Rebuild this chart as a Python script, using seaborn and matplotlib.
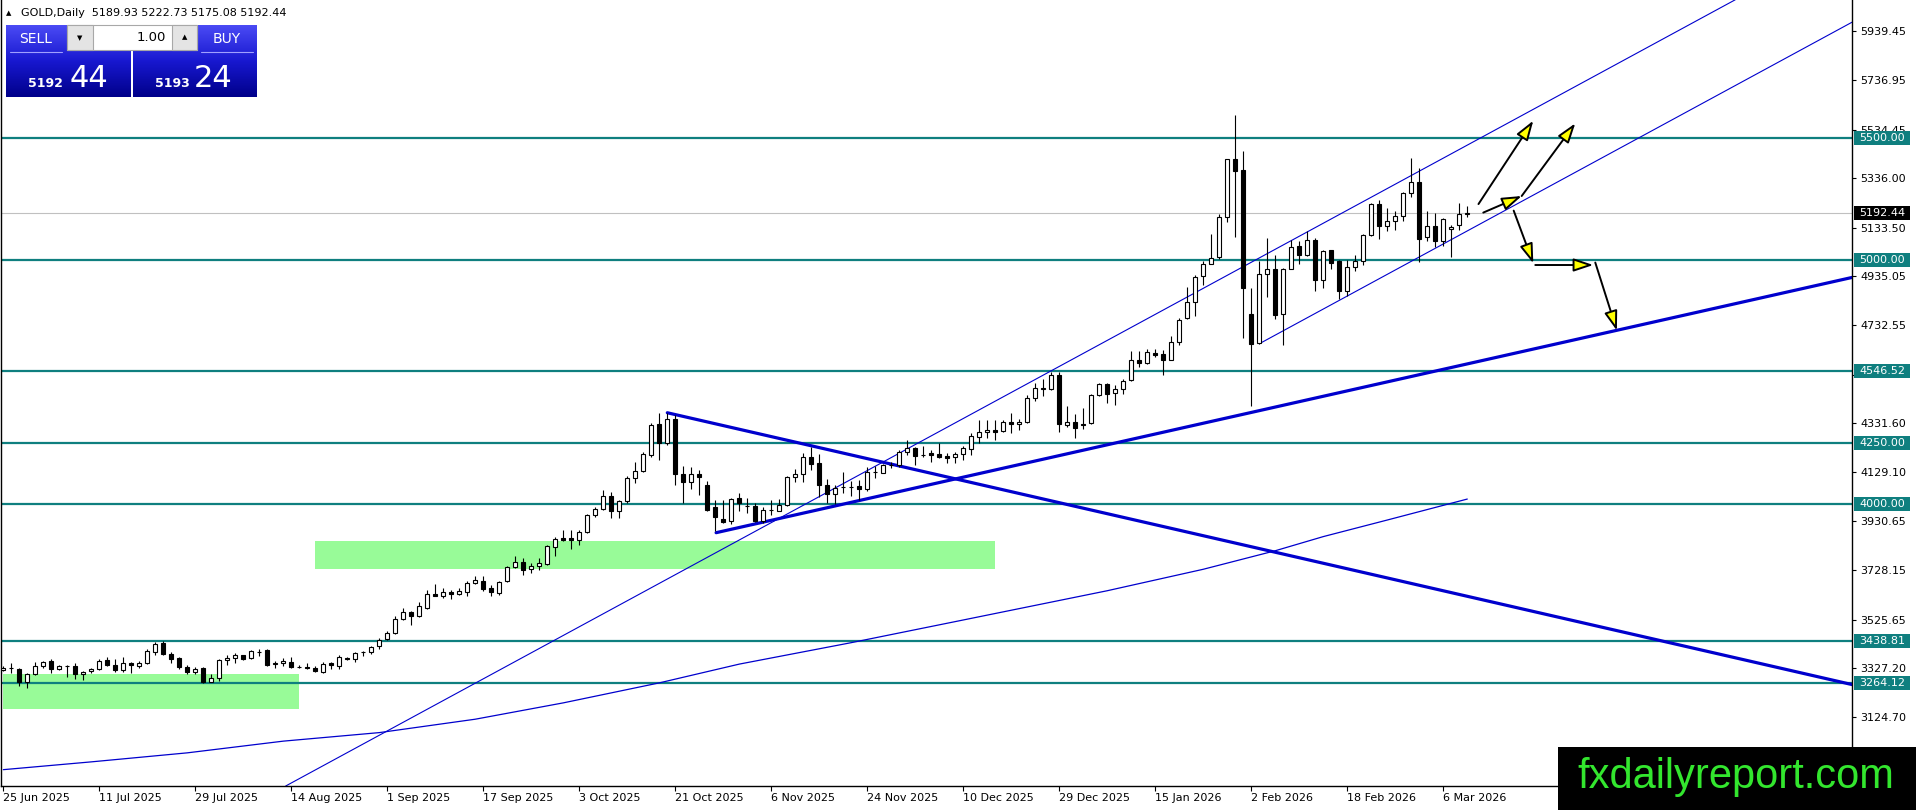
import numpy as np
import matplotlib
matplotlib.use("Agg")
import matplotlib.pyplot as plt
import seaborn as sns
from matplotlib.patches import Rectangle, FancyArrowPatch
from matplotlib.colors import LinearSegmentedColormap

# ---- daily GOLD candles, 25 Jun 2025 .. 10 Mar 2026 (one value per bar)
opens = [
    3318, 3325, 3324, 3271, 3301, 3337, 3354, 3324, 3336, 3337,
    3301, 3313, 3321, 3358, 3341, 3318, 3347, 3337, 3348, 3392,
    3430, 3386, 3366, 3332, 3310, 3325, 3271, 3286, 3358, 3366,
    3380, 3366, 3393, 3399, 3345, 3346, 3352, 3332, 3332, 3328,
    3312, 3347, 3337, 3369, 3362, 3391, 3393, 3416, 3446, 3471,
    3526, 3557, 3539, 3573, 3631, 3621, 3640, 3629, 3637, 3676,
    3684, 3655, 3635, 3682, 3741, 3761, 3733, 3744, 3755, 3825,
    3860, 3860, 3853, 3884, 3955, 3978, 4034, 3971, 4010, 4105,
    4136, 4200, 4327, 4248, 4350, 4123, 4091, 4123, 4078, 3986,
    3939, 3932, 4026, 3993, 3992, 3928, 3974, 3973, 3996, 4109,
    4123, 4191, 4166, 4078, 4041, 4070, 4069, 4074, 4060, 4131,
    4128, 4159, 4160, 4214, 4228, 4199, 4207, 4204, 4196, 4191,
    4204, 4224, 4275, 4293, 4303, 4299, 4334, 4326, 4334, 4436,
    4477, 4473, 4528, 4323, 4334, 4327, 4330, 4446, 4491, 4453,
    4473, 4507, 4592, 4579, 4620, 4613, 4592, 4664, 4761, 4829,
    4934, 4984, 5012, 5177, 5415, 5370, 4777, 4661, 4944, 4965,
    4777, 4964, 5057, 5020, 5084, 4918, 5043, 4995, 4873, 4971,
    4995, 5102, 5230, 5139, 5159, 5179, 5275, 5320, 5093, 5141,
    5077, 5128, 5143, 5189.93,
]
highs = [
    3335, 3348, 3327, 3307, 3351, 3355, 3362, 3341, 3341, 3348,
    3314, 3328, 3365, 3373, 3365, 3373, 3351, 3355, 3406, 3433,
    3436, 3392, 3371, 3339, 3332, 3331, 3301, 3362, 3382, 3389,
    3382, 3400, 3406, 3403, 3356, 3369, 3371, 3339, 3346, 3335,
    3352, 3351, 3380, 3372, 3393, 3396, 3419, 3451, 3478, 3539,
    3573, 3560, 3597, 3648, 3673, 3655, 3648, 3655, 3682, 3703,
    3706, 3669, 3682, 3746, 3787, 3778, 3757, 3778, 3832, 3866,
    3894, 3894, 3894, 3959, 3989, 4057, 4050, 4016, 4114, 4173,
    4214, 4330, 4374, 4374, 4364, 4155, 4153, 4139, 4094, 4016,
    4016, 4023, 4044, 4023, 4003, 3986, 4016, 4019, 4115, 4142,
    4207, 4234, 4204, 4101, 4078, 4132, 4095, 4098, 4153, 4155,
    4164, 4173, 4221, 4262, 4234, 4237, 4221, 4251, 4210, 4214,
    4237, 4289, 4346, 4346, 4344, 4344, 4371, 4350, 4446, 4494,
    4514, 4541, 4541, 4401, 4368, 4395, 4450, 4494, 4496, 4487,
    4514, 4627, 4627, 4637, 4637, 4633, 4687, 4763, 4889, 4941,
    4995, 5109, 5189, 5415, 5595, 5448, 4886, 4995, 5091, 5023,
    4968, 5084, 5077, 5118, 5091, 5043, 5043, 5002, 5002, 5020,
    5107, 5234, 5248, 5213, 5203, 5279, 5418, 5377, 5203, 5193,
    5173, 5145, 5234, 5222.73,
]
lows = [
    3314, 3307, 3255, 3246, 3299, 3328, 3307, 3318, 3291, 3283,
    3277, 3307, 3318, 3335, 3312, 3312, 3307, 3328, 3344, 3382,
    3382, 3348, 3321, 3301, 3303, 3266, 3269, 3272, 3341, 3348,
    3358, 3365, 3376, 3335, 3328, 3337, 3328, 3325, 3321, 3311,
    3307, 3321, 3321, 3359, 3351, 3376, 3385, 3405, 3441, 3468,
    3523, 3505, 3537, 3571, 3621, 3614, 3610, 3627, 3621, 3673,
    3642, 3621, 3628, 3678, 3737, 3710, 3716, 3730, 3751, 3787,
    3849, 3815, 3832, 3880, 3945, 3975, 3941, 3941, 4003, 4085,
    4132, 4194, 4180, 4241, 4078, 4003, 4060, 4037, 3969, 3887,
    3921, 3918, 3969, 3962, 3924, 3921, 3955, 3969, 3992, 4091,
    4091, 4139, 4030, 4003, 4000, 4044, 4033, 4016, 4055, 4105,
    4125, 4146, 4153, 4200, 4160, 4191, 4173, 4187, 4166, 4166,
    4180, 4200, 4251, 4269, 4262, 4296, 4292, 4303, 4330, 4423,
    4442, 4466, 4296, 4316, 4269, 4306, 4327, 4442, 4414, 4405,
    4450, 4504, 4562, 4575, 4603, 4528, 4589, 4650, 4757, 4771,
    4897, 4984, 5006, 5156, 5095, 4682, 4402, 4657, 4848, 4757,
    4652, 4964, 4985, 5016, 4873, 4884, 4965, 4839, 4852, 4954,
    4982, 5098, 5088, 5118, 5125, 5162, 5257, 4993, 5080, 5053,
    5057, 5012, 5122, 5175.08,
]
closes = [
    3328, 3326, 3269, 3301, 3335, 3351, 3321, 3335, 3334, 3301,
    3310, 3321, 3354, 3340, 3318, 3346, 3339, 3347, 3395, 3427,
    3385, 3365, 3331, 3310, 3324, 3269, 3287, 3359, 3369, 3380,
    3365, 3395, 3394, 3339, 3346, 3355, 3332, 3331, 3329, 3313,
    3344, 3339, 3371, 3362, 3389, 3392, 3414, 3441, 3471, 3530,
    3557, 3539, 3583, 3632, 3622, 3637, 3631, 3641, 3676, 3687,
    3652, 3637, 3680, 3741, 3760, 3730, 3746, 3757, 3828, 3855,
    3853, 3853, 3884, 3955, 3978, 4034, 3969, 4010, 4105, 4136,
    4204, 4323, 4248, 4350, 4123, 4091, 4123, 4109, 3975, 3946,
    3925, 4020, 4003, 3992, 3928, 3976, 3975, 3996, 4109, 4123,
    4191, 4164, 4078, 4041, 4064, 4071, 4068, 4060, 4132, 4132,
    4160, 4160, 4214, 4228, 4198, 4200, 4200, 4191, 4189, 4204,
    4228, 4278, 4293, 4303, 4296, 4334, 4326, 4334, 4436, 4477,
    4472, 4528, 4326, 4334, 4312, 4322, 4446, 4491, 4450, 4473,
    4504, 4592, 4579, 4623, 4609, 4592, 4664, 4755, 4829, 4931,
    4984, 5009, 5177, 5415, 5367, 4886, 4657, 4944, 4964, 4775,
    4965, 5054, 5020, 5084, 4918, 5039, 4989, 4873, 4971, 4995,
    5104, 5230, 5139, 5162, 5182, 5275, 5320, 5087, 5141, 5080,
    5168, 5136, 5189, 5192.44,
]

# moving average line, read at a few bars
ma_idx = [0, 11, 23, 35, 47, 59, 70, 82, 92, 106, 120, 138, 150, 159, 165, 173, 183]
ma_val = [2910, 2942, 2979, 3027, 3062, 3117, 3184, 3266, 3343, 3431, 3524, 3644, 3732, 3808, 3866, 3934, 4020]

date_ticks = [0, 12, 24, 36, 48, 60, 72, 84, 96, 108, 120, 132, 144, 156, 168, 180]
date_labels = ["25 Jun 2025", "11 Jul 2025", "29 Jul 2025", "14 Aug 2025", "1 Sep 2025",
               "17 Sep 2025", "3 Oct 2025", "21 Oct 2025", "6 Nov 2025", "24 Nov 2025",
               "10 Dec 2025", "29 Dec 2025", "15 Jan 2026", "2 Feb 2026", "18 Feb 2026",
               "6 Mar 2026"]
price_ticks = [5939.45, 5736.95, 5534.45, 5336.00, 5133.50, 4935.05, 4732.55, 4530.10,
               4331.60, 4129.10, 3930.65, 3728.15, 3525.65, 3327.20, 3124.70]
hidden_ticks = [4530.10]  # sits under the 4546.52 box
levels = [5500.00, 5000.00, 4546.52, 4250.00, 4000.00, 3438.81, 3264.12]
last_price = 5192.44

# drawn objects (bar index, price)
zones = [(-0.1, 36.9, 3159, 3302), (39.0, 124.0, 3734, 3848)]
thin_lines = [((35.3, 2843), (216.5, 6068)), ((157.0, 4657), (231.1, 5976))]
thick_lines = [((83.0, 4374), (231.1, 3259)), ((89.1, 3882), (231.1, 4929))]
arrows = [((184.4, 5230), (191.25, 5572)),
          ((185.0, 5195), (189.8, 5263)),
          ((189.8, 5263), (196.5, 5561)),
          ((188.8, 5203), (191.25, 4987)),
          ((191.5, 4980), (198.75, 4980)),
          ((199.0, 4990), (201.7, 4711))]

W, H = 1916, 810
AX_W, AX_H = 1852, 786
TEAL = "#0f7f7f"
BLUE = "#0000cd"

sns.set_style("white")
plt.rcParams["font.family"] = ["DejaVu Sans"]

fig = plt.figure(figsize=(W / 100, H / 100), dpi=100)
ax = fig.add_axes([1 / W, (H - AX_H) / H, (AX_W - 1) / W, AX_H / H])
ax.set_xlim(-0.29, 231.09)
ax.set_ylim(2843, 6067)
ppx = (6067 - 2843) / AX_H

# zones
for x0, x1, y0, y1 in zones:
    ax.add_patch(Rectangle((x0, y0), x1 - x0, y1 - y0, facecolor="#98fb98",
                           edgecolor="none", zorder=1))

# horizontal levels
for v in levels:
    ax.axhline(v, color=TEAL, lw=1.6, zorder=2)
ax.axhline(last_price, color="#c0c0c0", lw=0.8, zorder=2)

# trend lines
for (x0, y0), (x1, y1) in thin_lines:
    ax.plot([x0, x1], [y0, y1], color=BLUE, lw=0.8, zorder=2)
for (x0, y0), (x1, y1) in thick_lines:
    ax.plot([x0, x1], [y0, y1], color=BLUE, lw=2.3, zorder=2)

sns.lineplot(x=ma_idx, y=ma_val, ax=ax, color=BLUE, lw=0.9, zorder=2)

# candles
o = np.array(opens); h = np.array(highs); l = np.array(lows); c = np.array(closes)
xs = np.arange(len(o))
ax.vlines(xs, l, h, color="black", lw=0.8, zorder=3)
for i in xs:
    lo, hi = min(o[i], c[i]), max(o[i], c[i])
    ax.add_patch(Rectangle((i - 0.27, lo), 0.54, max(hi - lo, 0.5),
                           facecolor="white" if c[i] >= o[i] else "black",
                           edgecolor="black", lw=0.8, zorder=4))

# arrows
for (x0, y0), (x1, y1) in arrows:
    ax.add_patch(FancyArrowPatch((x0, y0), (x1, y1),
                                 arrowstyle="-|>,head_length=1.2,head_width=0.4",
                                 mutation_scale=10, facecolor="#ffff00", edgecolor="black",
                                 lw=1.4, shrinkA=0, shrinkB=0, zorder=6))

# axes, ticks
ax.spines["top"].set_visible(False)
for s in ["left", "right", "bottom"]:
    ax.spines[s].set_color("black")
    ax.spines[s].set_linewidth(1.0)
ax.set_xticks(date_ticks)
ax.set_xticklabels(date_labels, ha="left", fontsize=8)
ax.tick_params(axis="x", bottom=True, direction="out", length=3.5, width=0.8, pad=1.5, colors="black")
ax.yaxis.tick_right()
ax.set_yticks(price_ticks)
ax.set_yticklabels(["" if v in hidden_ticks else f"{v:.2f}" for v in price_ticks])
ax.tick_params(axis="y", right=True, left=False, direction="out", length=3, width=0.8,
               pad=3, labelsize=8, colors="black")
ax.set_xlabel("")
ax.set_ylabel("")

# price boxes on the scale
ytr = ax.get_yaxis_transform()
for v, face in [(v, TEAL) for v in levels] + [(last_price, "black")]:
    ax.add_patch(Rectangle((1 + 2 / AX_W, v - 7 * ppx), 56 / AX_W, 14 * ppx, transform=ytr,
                           facecolor=face, edgecolor="none", clip_on=False, zorder=7))
    ax.text(1 + 30 / AX_W, v, f"{v:.2f}", transform=ytr, ha="center", va="center",
            color="white", fontsize=8, clip_on=False, zorder=8)

# overlay in pixel units: header, trading panel, watermark
pan = fig.add_axes([0, 0, 1, 1], zorder=10)
pan.set_xlim(0, W)
pan.set_ylim(H, 0)
pan.set_axis_off()
pan.patch.set_alpha(0)

pan.text(6, 13.5, "▲", fontsize=5, ha="left", va="center", color="black")
pan.text(21, 13.5, "GOLD,Daily  5189.93 5222.73 5175.08 5192.44", fontsize=8,
         ha="left", va="center", color="black")

cmap = LinearSegmentedColormap.from_list("btn", ["#4a4af4", "#1818d0", "#00008a"])
grad = np.linspace(0, 1, 64).reshape(-1, 1)
for x0, x1 in [(6, 130.7), (133.3, 256.7)]:
    pan.imshow(grad, extent=(x0, x1, 96.7, 25), cmap=cmap, aspect="auto", zorder=1)
pan.add_patch(Rectangle((66.7, 25), 130, 25, facecolor="white", edgecolor="#a8a8a8", lw=0.8, zorder=2))
pan.add_patch(Rectangle((66.7, 25), 26, 25, facecolor="#e4e4e4", edgecolor="#a8a8a8", lw=0.8, zorder=3))
pan.add_patch(Rectangle((171.7, 25), 25, 25, facecolor="#e4e4e4", edgecolor="#a8a8a8", lw=0.8, zorder=3))
pan.text(79.7, 38, "▼", fontsize=5, ha="center", va="center", color="black", zorder=4)
pan.text(184.2, 37, "▲", fontsize=5, ha="center", va="center", color="black", zorder=4)
pan.text(166, 37.5, "1.00", fontsize=9.5, ha="right", va="center", color="black", zorder=4)
pan.text(35.3, 39, "SELL", fontsize=10, ha="center", va="center", color="white", zorder=4)
pan.text(226.7, 39, "BUY", fontsize=10, ha="center", va="center", color="white", zorder=4)
pan.plot([10, 61.7], [51.7, 51.7], color="#a0a0ff", lw=0.8, zorder=4)
pan.plot([201, 253.3], [51.7, 51.7], color="#a0a0ff", lw=0.8, zorder=4)
pan.text(45.5, 87.3, "5192", fontsize=9, fontweight="bold", ha="center", va="baseline", color="white", zorder=4)
pan.text(89.2, 87.3, "44", fontsize=22, ha="center", va="baseline", color="white", zorder=4)
pan.text(172, 87.3, "5193", fontsize=9, fontweight="bold", ha="center", va="baseline", color="white", zorder=4)
pan.text(213.3, 87.3, "24", fontsize=22, ha="center", va="baseline", color="white", zorder=4)

pan.add_patch(Rectangle((1558.3, 746.7), W - 1558.3, H - 746.7, facecolor="black", edgecolor="none", zorder=5))
pan.text(1736, 788.3, "fxdailyreport.com", fontsize=30, family=["Liberation Sans", "DejaVu Sans"],
         ha="center", va="baseline", color="#33e62e", zorder=6)
pan.set_xlim(0, W)
pan.set_ylim(H, 0)

fig.savefig("out.png", dpi=100, facecolor="white")
